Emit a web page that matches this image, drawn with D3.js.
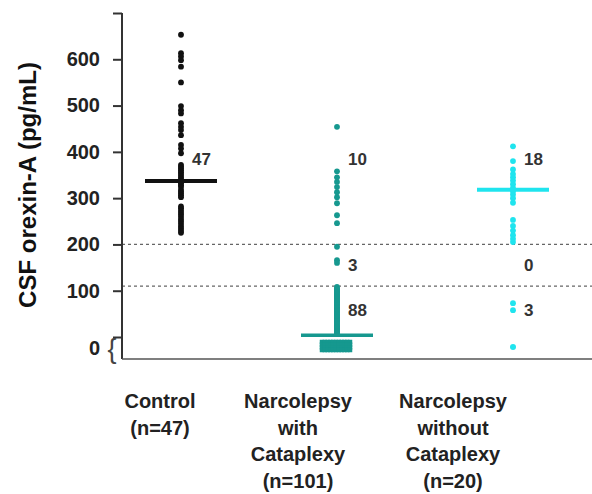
<!DOCTYPE html>
<html>
<head>
<meta charset="utf-8">
<script src="https://cdn.jsdelivr.net/npm/d3@7"></script>
<style>
  body { margin: 0; background: #fff; }
  svg { font-family: "Liberation Sans", Arial, sans-serif; }
</style>
</head>
<body>
<script>
// groups and x labels
const groups = ["Control", "Narcolepsy with Cataplexy", "Narcolepsy without Cataplexy"];
const groupLabels = [
    ["Control", "(n=47)"],
    ["Narcolepsy", "with", "Cataplexy", "(n=101)"],
    ["Narcolepsy", "without", "Cataplexy", "(n=20)"]
];

// individual CSF orexin-A values (pg/mL)
const controlValues = [653, 613, 606, 598, 584, 550, 499, 490, 483, 462, 454, 447, 436, 415, 407, 397,
    372, 368, 364, 360, 356, 352, 348, 344, 340, 336, 332, 328, 324, 318, 314, 310, 306, 302,
    282, 278, 273, 268, 264, 259, 254, 249, 244, 239, 234, 229, 225];
const cataplexyValues = [454, 358, 345, 335, 324, 313, 302, 289, 263, 246,
    195, 166, 160,
    108, 105, 103, 100, 98, 96, 93, 91, 89, 86, 84, 82, 79, 77, 75, 72, 70, 68, 65, 63, 61, 58,
    56, 54, 51, 49, 47, 44, 42, 40, 37, 35, 33, 30, 28, 26, 23, 21, 19, 16, 14, 12, 10, 8];
const cataplexyUndetectable = 44;   // drawn as squares under 0
const noCataplexyValues = [412, 380, 362, 352, 345, 338, 330, 322, 315, 308, 300, 290, 253, 240, 230, 220, 212, 205,
    73, 58];
const noCataplexyUndetectable = 1;

// horizontal bar per group
const centerValues = [337, 4, 318];
// cut-off lines
const cutoffs = [200, 110];
// tick values on y
const yTicks = [0, 100, 200, 300, 400, 500, 600, 700];

// counts per range: >=200, 110-200, <110
const countsHigh = [47, 10, 18];
const countsMid = [null, 3, 0];
const countsLow = [null, 88, 3];
const countLevels = [385, 155, 58];

const colors = ["#111111", "#16988f", "#1fe4ee"];

const svg = d3.select("body").append("svg")
    .attr("width", 592)
    .attr("height", 494);

const y = d3.scaleLinear().domain([0, 700]).range([337, 13]);
const x = d3.scaleOrdinal().domain(groups).range([181, 337, 513]);
const xLabel = d3.scaleOrdinal().domain(groups).range([160, 298, 453]);

const axisX = 122, baseY = 359, rightX = 592;

// dashed cut-off lines
svg.selectAll(".cutoff")
    .data(cutoffs)
    .enter().append("line")
    .attr("class", "cutoff")
    .attr("x1", axisX).attr("x2", rightX)
    .attr("y1", d => y(d)).attr("y2", d => y(d))
    .attr("stroke", "#666")
    .attr("stroke-width", 1.3)
    .attr("stroke-dasharray", "3,3");

// y axis
const yAxis = d3.axisLeft(y)
    .tickValues(yTicks)
    .tickSize(9)
    .tickSizeOuter(0)
    .tickPadding(13)
    .tickFormat(d => (d === 0 || d === 700) ? "" : d);

const gy = svg.append("g")
    .attr("transform", "translate(" + axisX + ",0)")
    .call(yAxis);
gy.select(".domain").remove();
gy.selectAll(".tick line").attr("stroke", "#333").attr("stroke-width", 2);
gy.selectAll(".tick text")
    .attr("fill", "#222")
    .attr("font-size", "20px")
    .attr("font-weight", "bold")
    .attr("font-family", "Liberation Sans, Arial, sans-serif");

// axis lines
svg.append("line")
    .attr("x1", axisX).attr("x2", axisX)
    .attr("y1", y(700)).attr("y2", baseY)
    .attr("stroke", "#333").attr("stroke-width", 2);
svg.append("line")
    .attr("x1", axisX).attr("x2", rightX)
    .attr("y1", baseY).attr("y2", baseY)
    .attr("stroke", "#555").attr("stroke-width", 1.5);

// 0 label with brace for undetectable values
svg.append("text")
    .attr("x", 100).attr("y", (y(0) + baseY) / 2)
    .attr("dy", "0.35em")
    .attr("text-anchor", "end")
    .attr("font-size", "20px").attr("font-weight", "bold").attr("fill", "#222")
    .text("0");
svg.append("text")
    .attr("x", 112).attr("y", (y(0) + baseY) / 2 + 1)
    .attr("dy", "0.35em")
    .attr("text-anchor", "middle")
    .attr("font-size", "27px").attr("fill", "#444")
    .text("{");

// y title
svg.append("text")
    .attr("transform", "translate(36," + 185 + ") rotate(-90)")
    .attr("text-anchor", "middle")
    .attr("font-size", "24px").attr("font-weight", "bold").attr("fill", "#111")
    .text("CSF orexin-A (pg/mL)");

// dots
const dotSets = [controlValues, cataplexyValues, noCataplexyValues];
dotSets.forEach((vals, i) => {
    svg.append("g").selectAll("circle")
        .data(vals)
        .enter().append("circle")
        .attr("cx", x(groups[i]))
        .attr("cy", d => y(d))
        .attr("r", 2.9)
        .attr("fill", colors[i]);
});

// undetectable squares, narcolepsy with cataplexy
const sqCols = 11, sqRows = 4, sqSize = 4.5;
const sqX = d3.scaleLinear().domain([0, sqCols - 1]).range([-15, 13]);
const sqY = d3.scaleLinear().domain([0, sqRows - 1]).range([y(0) + 5, y(0) + 13]);
svg.append("g").selectAll("rect")
    .data(d3.range(cataplexyUndetectable))
    .enter().append("rect")
    .attr("x", d => x(groups[1]) + sqX(d % sqCols) - sqSize / 2)
    .attr("y", d => sqY(Math.floor(d / sqCols)) - sqSize / 2)
    .attr("width", sqSize).attr("height", sqSize)
    .attr("fill", colors[1]);

// undetectable, narcolepsy without cataplexy
svg.append("g").selectAll("circle")
    .data(d3.range(noCataplexyUndetectable))
    .enter().append("circle")
    .attr("cx", x(groups[2]))
    .attr("cy", y(0) + 10)
    .attr("r", 3)
    .attr("fill", colors[2]);

// center bars
svg.selectAll(".center")
    .data(centerValues)
    .enter().append("line")
    .attr("class", "center")
    .attr("x1", (d, i) => x(groups[i]) - 36)
    .attr("x2", (d, i) => x(groups[i]) + 36)
    .attr("y1", d => y(d)).attr("y2", d => y(d))
    .attr("stroke", (d, i) => colors[i])
    .attr("stroke-width", (d, i) => i === 1 ? 3.5 : 4);

// count labels
[countsHigh, countsMid, countsLow].forEach((counts, k) => {
    svg.append("g").selectAll("text")
        .data(counts)
        .enter().filter(d => d !== null).append("text")
        .attr("x", (d, i) => x(groups[counts.indexOf(d)]) + 11)
        .attr("y", y(countLevels[k]))
        .attr("dy", "0.35em")
        .attr("font-size", "17px").attr("font-weight", "bold").attr("fill", "#333")
        .text(d => d);
});

// group labels
groupLabels.forEach((lines, i) => {
    svg.append("g").selectAll("text")
        .data(lines)
        .enter().append("text")
        .attr("x", xLabel(groups[i]))
        .attr("y", (d, j) => 408 + j * 26.7)
        .attr("text-anchor", "middle")
        .attr("font-size", "20px").attr("font-weight", "bold").attr("fill", "#222")
        .text(d => d);
});
</script>
</body>
</html>
